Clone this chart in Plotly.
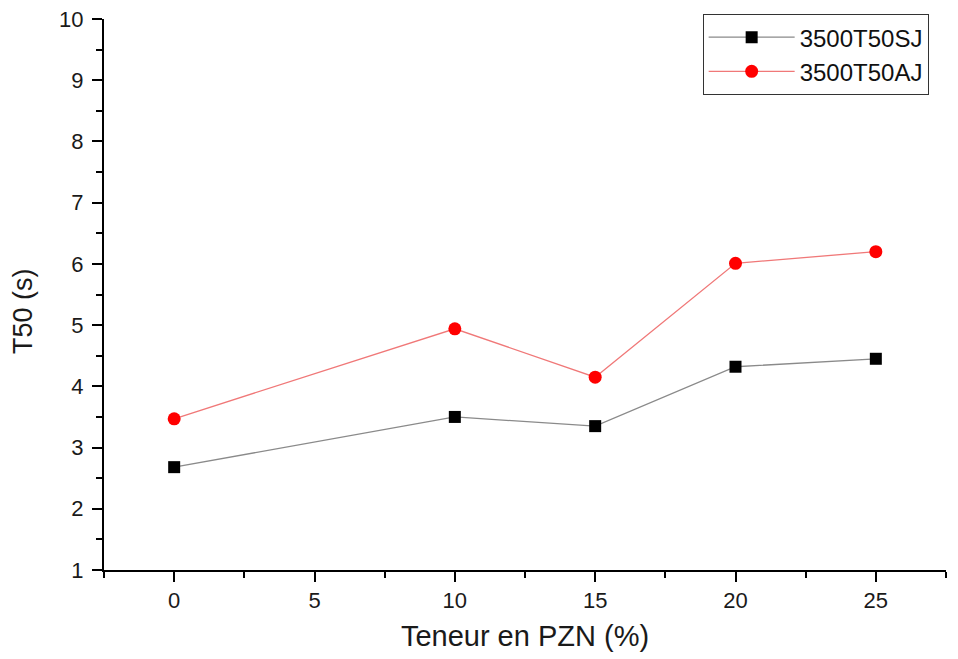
import plotly.graph_objects as go

# PZN content (%) and measured T50 times (s)
pzn_content = [0, 10, 15, 20, 25]
t50_sj = [2.68, 3.50, 3.35, 4.32, 4.45]
t50_aj = [3.47, 4.94, 4.15, 6.01, 6.20]

series_names = ["3500T50SJ", "3500T50AJ"]

FONT = "Arial, Liberation Sans, sans-serif"

fig = go.Figure()

fig.add_trace(go.Scatter(
    x=pzn_content, y=t50_sj, name=series_names[0],
    mode="lines+markers",
    line=dict(color="#8a8a8a", width=1.3),
    marker=dict(symbol="square", size=12, color="black"),
))

fig.add_trace(go.Scatter(
    x=pzn_content, y=t50_aj, name=series_names[1],
    mode="lines+markers",
    line=dict(color="#f07878", width=1.3),
    marker=dict(symbol="circle", size=13, color="#ff0000"),
))

axis_common = dict(
    showline=True, linecolor="black", linewidth=2,
    ticks="outside", tickcolor="black", tickwidth=2, ticklen=10,
    showgrid=False, zeroline=False, mirror=False,
    tickfont=dict(family=FONT, size=22, color="#1a1a1a"),
)

fig.update_xaxes(
    range=[-2.5, 27.5], tick0=0, dtick=5,
    minor=dict(ticks="outside", tick0=-2.5, dtick=2.5, ticklen=6,
               tickcolor="black", tickwidth=2, showgrid=False),
    title=dict(text="Teneur en PZN (%)", font=dict(family=FONT, size=29, color="#1a1a1a"),
               standoff=13),
    **axis_common,
)

fig.update_yaxes(
    range=[1, 10], tick0=1, dtick=1,
    minor=dict(ticks="outside", tick0=1, dtick=0.5, ticklen=6,
               tickcolor="black", tickwidth=2, showgrid=False),
    ticklabelstandoff=4,
    **axis_common,
)

# y-axis title placed slightly below the plot-area centre
fig.add_annotation(
    text="T50 (s)", textangle=-90, showarrow=False,
    xref="paper", yref="paper", x=-0.0962, y=0.470,
    xanchor="center", yanchor="middle",
    font=dict(family=FONT, size=27, color="#1a1a1a"),
)

fig.update_layout(
    width=958, height=659,
    margin=dict(l=104, r=12, t=19, b=89, autoexpand=False),
    paper_bgcolor="white", plot_bgcolor="white",
    showlegend=True,
    legend=dict(
        x=0.711, y=1.009, xanchor="left", yanchor="top",
        bordercolor="#333", borderwidth=1, bgcolor="white",
        font=dict(family=FONT, size=24, color="#111"),
        itemwidth=86,
    ),
)

fig.write_html("out.html")
